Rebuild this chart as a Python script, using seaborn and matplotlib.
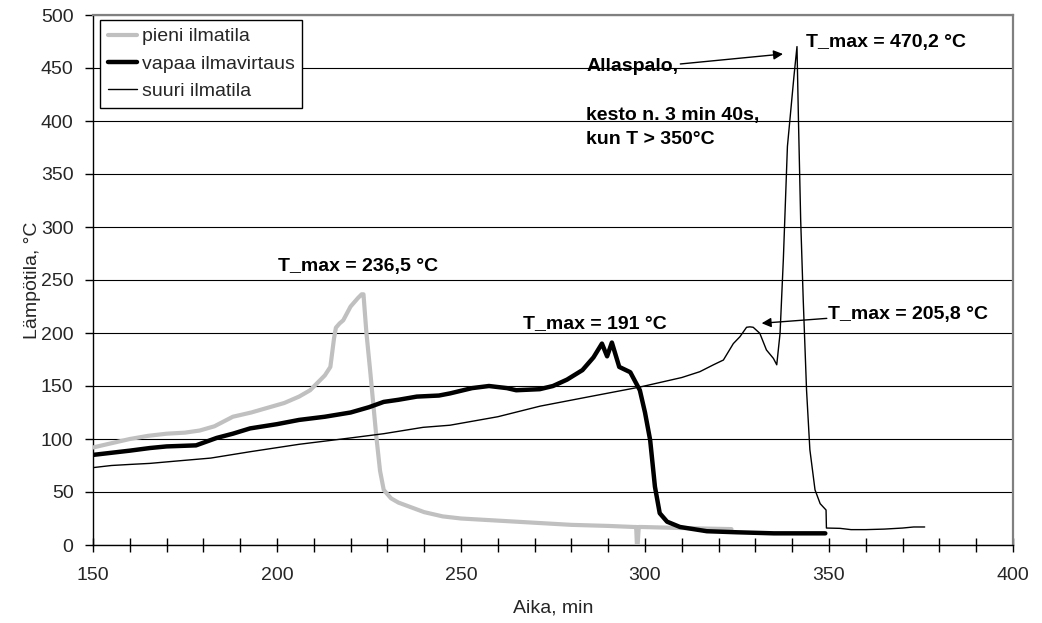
import matplotlib
matplotlib.use("Agg")
import matplotlib.pyplot as plt
from matplotlib.ticker import MultipleLocator
import seaborn as sns
import pandas as pd

# Temperature curves (time in min, temperature in °C)
pieni_x = [150, 155, 160, 165, 170, 175, 179, 183, 188, 193, 197, 202, 206, 209, 211,
           213, 214.5, 215.5, 216, 217, 218, 220, 222, 223, 223.5, 224.3, 225.3, 227,
           228, 229, 231, 233, 240, 245, 250, 260, 270, 280, 290, 297, 297.6, 297.8,
           298.0, 298.3, 299, 310, 323.5]
pieni_y = [92, 96, 100, 103, 105, 106, 108, 112, 121, 125, 129, 134, 140, 146, 153,
           160, 168, 195, 205, 209, 212, 225, 233, 236.5, 236.5, 200, 165, 102,
           70, 52, 44, 40, 31, 27, 25, 23, 21, 19, 18, 17, 17, 0,
           0, 17, 17, 16, 15]

vapaa_x = [150, 155, 160, 165.5, 170, 178, 183.6, 188, 192.7, 200, 206, 213, 220, 225,
           229, 233, 238, 244, 247, 253, 257.6, 262.5, 265, 271.4, 275, 278.8, 283,
           286, 288.3, 289.7, 291, 293, 296, 298.6, 300, 301.4, 302.7, 304, 306, 309.5,
           316.8, 325, 335, 349]
vapaa_y = [85, 87, 89, 91.5, 93, 94, 101, 105, 110, 114, 118, 121, 125, 130,
           135, 137, 140, 141, 143, 148, 150, 148, 146, 147, 150, 156, 165,
           177, 190, 178, 191, 168, 163, 146, 125, 99, 55, 30, 22, 17,
           13, 12, 11, 11]

suuri_x = [150, 155, 160, 165.5, 172, 182, 192.7, 206, 220, 229, 239.7, 247, 260, 271.5,
           285, 298.6, 310, 314.9, 318.6, 321.3, 324, 325.8, 327.6, 328.5, 329.4, 331.2,
           333, 334.9, 335.8, 336.7, 337.6, 338.7, 339.4, 340.5, 341.3, 341.7, 342.3,
           343, 343.9, 344.8, 346.2, 347.6, 349.2, 349.3, 353, 356, 360, 365, 370, 373, 376]
suuri_y = [73, 75, 76, 77, 79, 82, 88, 95, 101, 105, 111, 113, 121, 131,
           140, 149, 158, 163.5, 170, 174.5, 190, 196.5, 205.4, 205.8, 205.4, 199.7,
           184, 176, 170, 199.7, 270, 376, 402, 443, 470.2, 401, 307,
           231, 146, 90, 52, 39, 33, 16, 15.7, 14.5, 14.5, 15, 16, 17, 17]

series_labels = ["pieni ilmatila", "vapaa ilmavirtaus", "suuri ilmatila"]
x_ticks = [150, 200, 250, 300, 350, 400]
y_ticks = [0, 50, 100, 150, 200, 250, 300, 350, 400, 450, 500]

sns.set_theme(style="white")
plt.rcParams["font.family"] = ["Liberation Sans", "DejaVu Sans"]
plt.rcParams["font.size"] = 14

fig = plt.figure(figsize=(10.42, 6.23), dpi=100)
ax = fig.add_axes([93 / 1042, 1 - 545 / 623, 920 / 1042, 530 / 623])

df_p = pd.DataFrame({"t": pieni_x, "T": pieni_y})
df_v = pd.DataFrame({"t": vapaa_x, "T": vapaa_y})
df_s = pd.DataFrame({"t": suuri_x, "T": suuri_y})

sns.lineplot(data=df_p, x="t", y="T", ax=ax, color="#c0c0c0", lw=3.0,
             estimator=None, label=series_labels[0], zorder=3)
sns.lineplot(data=df_v, x="t", y="T", ax=ax, color="black", lw=3.2,
             estimator=None, label=series_labels[1], zorder=4)
sns.lineplot(data=df_s, x="t", y="T", ax=ax, color="black", lw=1.0,
             estimator=None, label=series_labels[2], zorder=5)

ax.set_xlim(x_ticks[0], x_ticks[-1])
ax.set_ylim(y_ticks[0], y_ticks[-1])
ax.set_xticks(x_ticks)
ax.set_yticks(y_ticks)
ax.xaxis.set_minor_locator(MultipleLocator(10))
ax.tick_params(axis="x", which="both", direction="inout", length=10, width=1,
               color="black", labelsize=14, pad=11, bottom=True)
ax.tick_params(axis="y", which="major", direction="out", length=6, width=1,
               color="black", labelsize=14, pad=8, left=True)

ax.yaxis.grid(True, color="black", lw=0.8, zorder=0)
ax.xaxis.grid(False)
ax.set_axisbelow(True)

for side in ("left", "bottom"):
    ax.spines[side].set_color("black")
    ax.spines[side].set_linewidth(1.0)
for side in ("top", "right"):
    ax.spines[side].set_color("#808080")
    ax.spines[side].set_linewidth(1.6)

ax.set_xlabel("Aika, min", fontsize=14, labelpad=11)
ax.set_ylabel("Lämpötila, °C", fontsize=14, labelpad=0)

leg = ax.legend(loc="upper left", bbox_to_anchor=(0.0076, 0.9906), borderaxespad=0,
                fontsize=14, handlelength=1.5, handletextpad=0.25, borderpad=0.4,
                labelspacing=0.5, fancybox=False, framealpha=1, edgecolor="black")
leg.get_frame().set_linewidth(1.0)

bold = dict(fontsize=14, fontweight="bold", color="black", va="baseline", zorder=6)
arrow = dict(arrowstyle="-|>", color="black", lw=1.0, mutation_scale=14,
             shrinkA=0, shrinkB=0)

ax.text(221.9, 258.8, "T_max = 236,5 °C", ha="center", **bold)
ax.text(286.4, 204.5, "T_max = 191 °C", ha="center", **bold)
ax.text(349.7, 212.9, "T_max = 205,8 °C", ha="left", **bold)
ax.annotate("", xy=(331.7, 209.2), xytext=(349.4, 213.8), arrowprops=arrow)
ax.text(343.8, 470.1, "T_max = 470,2 °C", ha="left", **bold)
ax.text(284.0, 447.0, "Allaspalo,", ha="left", **bold)
ax.annotate("", xy=(337.5, 463.2), xytext=(309.6, 453.8), arrowprops=arrow)
ax.text(284.0, 401.0, "kesto n. 3 min 40s,", ha="left", **bold)
ax.text(284.0, 378.0, "kun T > 350°C", ha="left", **bold)

fig.savefig("out.png", dpi=100, facecolor="white")
